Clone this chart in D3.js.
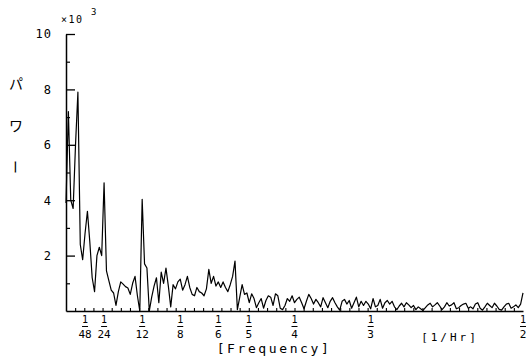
<!DOCTYPE html>
<html>
<head>
<meta charset="utf-8">
<script src="https://cdn.jsdelivr.net/npm/d3@7"></script>
<style>
  html, body { margin: 0; padding: 0; background: #fff; }
  svg { display: block; }
</style>
</head>
<body>
<svg id="chart" width="527" height="357"></svg>
<script>
// Periodogram: power (x10^3) at harmonics k/384 [1/Hr], k = 0..192
const harmonicCount = 384;
const power = [
  3.9, 7.2, 4.0, 3.7, 6.0, 7.9, 2.4, 1.85, 2.8, 3.6,
  2.5, 1.2, 0.7, 2.0, 2.3, 2.0, 4.63, 1.45, 1.1, 0.75,
  0.65, 0.2, 0.7, 1.05, 0.97, 0.88, 0.83, 0.6, 1.0, 1.25,
  0.55, 0.0, 4.03, 1.7, 1.55, 0.0, 0.5, 0.9, 1.2, 0.3,
  1.4, 1.0, 1.55, 0.9, 0.15, 0.95, 0.8, 1.05, 1.15, 0.75,
  0.95, 1.25, 0.85, 0.6, 0.55, 0.85, 0.7, 0.65, 0.55, 0.8,
  1.5, 1.0, 1.25, 0.9, 1.05, 0.85, 1.05, 0.85, 0.7, 0.95,
  1.25, 1.8, 0.05, 0.5, 0.95, 0.6, 0.65, 0.3, 0.62, 0.45,
  0.12, 0.3, 0.45, 0.1, 0.38, 0.55, 0.5, 0.2, 0.62, 0.55,
  0.1, 0.05, 0.2, 0.45, 0.35, 0.55, 0.3, 0.42, 0.5, 0.3,
  0.08, 0.35, 0.6, 0.45, 0.25, 0.42, 0.3, 0.15, 0.48, 0.3,
  0.12, 0.35, 0.48, 0.3, 0.15, 0.03, 0.35, 0.42, 0.25, 0.38,
  0.1, 0.3, 0.5, 0.15, 0.35, 0.2, 0.35, 0.25, 0.08, 0.45,
  0.15, 0.2, 0.42, 0.1, 0.3, 0.38, 0.25, 0.35, 0.15, 0.05,
  0.18, 0.28, 0.15, 0.3, 0.22, 0.12, 0.2, 0.05, 0.15, 0.08,
  0.02, 0.12, 0.22, 0.28, 0.15, 0.22, 0.3, 0.18, 0.05, 0.15,
  0.3, 0.18, 0.22, 0.3, 0.08, 0.12, 0.2, 0.25, 0.28, 0.1,
  0.15, 0.08, 0.25, 0.3, 0.1, 0.03, 0.15, 0.28, 0.2, 0.12,
  0.28, 0.18, 0.06, 0.03, 0.15, 0.25, 0.28, 0.1, 0.15, 0.22,
  0.12, 0.25, 0.65
];
const yMajorTicks = [2, 4, 6, 8, 10];
const yMinorTicks = [1, 3, 5, 7, 9];
const xFractionDenominators = [48, 24, 12, 8, 6, 5, 4, 3, 2];
const xMinorStep = 0.01;
const yLabelChars = ["パ", "ワ", "ー"];
const xTitle = "[Frequency]";
const xUnit = "[1/Hr]";

const svg = d3.select("#chart");
const x = d3.scaleLinear().domain([0, 0.5]).range([66, 523]);
const y = d3.scaleLinear().domain([0, 10]).range([311, 34]);
const mono = "'DejaVu Sans Mono', monospace";

// Y axis: major ticks pointing right with labels on the left
const yAxis = svg.append("g").attr("transform", `translate(${x(0)},0)`)
  .call(d3.axisLeft(y).tickValues(yMajorTicks).tickSizeInner(-9).tickSizeOuter(0)
    .tickPadding(14).tickFormat(d3.format("d")));
yAxis.select(".domain").attr("stroke-width", 1.5);
yAxis.selectAll(".tick line").attr("stroke-width", 1.3);
yAxis.selectAll("text").attr("font-family", mono).attr("font-size", 12)
  .attr("letter-spacing", 1).attr("fill", "#000");

svg.append("g").attr("transform", `translate(${x(0)},0)`)
  .call(d3.axisRight(y).tickValues(yMinorTicks).tickSize(4).tickFormat(""))
  .call(g => g.select(".domain").remove())
  .selectAll(".tick line").attr("stroke-width", 1.2);

// Y axis: x10^3 multiplier
svg.append("text").attr("x", x(0) - 5).attr("y", y(10) - 11)
  .attr("font-family", mono).attr("font-size", 10).attr("letter-spacing", 1.5).text("×10");
svg.append("text").attr("x", x(0) + 25).attr("y", y(10) - 19)
  .attr("font-family", mono).attr("font-size", 9).text("3");

// Y axis label (vertical Japanese)
yLabelChars.forEach((c, i) => {
  const cy = 83 + i * 42;
  const t = svg.append("text")
    .attr("font-family", "'Noto Sans CJK JP', sans-serif").attr("font-size", 14)
    .attr("text-anchor", "middle").attr("dominant-baseline", "central").text(c);
  if (c === "ー") t.attr("transform", `translate(16,${cy}) rotate(90)`);
  else t.attr("x", 16).attr("y", cy);
});

// X axis: baseline and minor ticks every 0.01
const xMinor = d3.range(1, 50).map(i => i * xMinorStep);
const xAxis = svg.append("g").attr("transform", `translate(0,${y(0)})`)
  .call(d3.axisBottom(x).tickValues(xMinor).tickSizeInner(-3).tickSizeOuter(0).tickFormat(""));
xAxis.select(".domain").attr("stroke-width", 1.5);
xAxis.selectAll(".tick line").attr("stroke-width", 1.1);

// X axis fraction labels 1/n
const frac = svg.append("g").attr("font-family", mono).attr("fill", "#000");
xFractionDenominators.forEach(n => {
  const fx = x(1 / n);
  frac.append("text").attr("x", fx).attr("y", 323).attr("text-anchor", "middle")
    .attr("font-size", 10).text("1");
  frac.append("line").attr("x1", fx - 3).attr("x2", fx + 3).attr("y1", 326.5).attr("y2", 326.5)
    .attr("stroke", "#000").attr("stroke-width", 1);
  frac.append("text").attr("x", fx).attr("y", 338).attr("text-anchor", "middle")
    .attr("font-size", 11).text(String(n));
});

svg.append("text").attr("x", 274).attr("y", 353).attr("text-anchor", "middle")
  .attr("font-family", mono).attr("font-size", 13).attr("letter-spacing", 2.6).text(xTitle);
svg.append("text").attr("x", 450).attr("y", 341).attr("text-anchor", "middle")
  .attr("font-family", mono).attr("font-size", 11).attr("letter-spacing", 3).text(xUnit);

// Spectrum line
const line = d3.line()
  .x((d, k) => x(k / harmonicCount))
  .y(d => y(d));
svg.append("path").datum(power)
  .attr("fill", "none").attr("stroke", "#000").attr("stroke-width", 1.2)
  .attr("stroke-linejoin", "round").attr("d", line);
</script>
</body>
</html>
